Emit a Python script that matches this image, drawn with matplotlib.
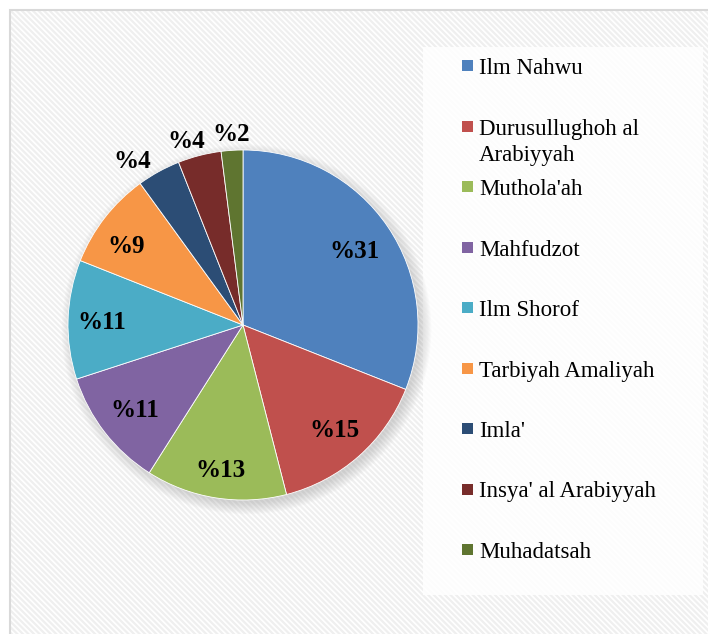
import numpy as np
import matplotlib
matplotlib.use('Agg')
from matplotlib import pyplot as plt
from matplotlib.patches import Rectangle, Circle

# Data
subjects = ['Ilm Nahwu', 'Durusullughoh al\nArabiyyah', "Muthola'ah", 'Mahfudzot',
            'Ilm Shorof', 'Tarbiyah Amaliyah', "Imla'", "Insya' al Arabiyyah", 'Muhadatsah']
shares = [31, 15, 13, 11, 11, 9, 4, 4, 2]
colors = ['#4F81BD', '#C0504D', '#9BBB59', '#8064A2', '#4BACC6',
          '#F79646', '#2C4D75', '#772C2A', '#5F7530']
# data label placement: radius (fraction of pie radius) and angle nudge (deg)
label_r = [0.77, 0.79, 0.83, 0.78, 0.81, 0.81, 1.14, 1.11, 1.10]
label_nudge = [0, 0, 0, 0, 0, 3, 5, 2.5, 0]

plt.rcParams['font.family'] = ['Liberation Serif', 'DejaVu Serif']
plt.rcParams['hatch.color'] = '#efefef'
plt.rcParams['hatch.linewidth'] = 1.6

W, H = 708, 634
fig = plt.figure(figsize=(W / 100, H / 100), dpi=100)
fig.patch.set_facecolor('white')

# striped chart area and border
bg = Rectangle((10 / W, -0.05), 1.0, 1 - 10 / H + 0.05, transform=fig.transFigure,
               facecolor='white', edgecolor='#efefef', hatch='\\\\\\\\\\\\', lw=0, zorder=-3)
fig.patches.append(bg)
border = Rectangle((10 / W, -0.05), 1.0, 1 - 10 / H + 0.05, transform=fig.transFigure,
                   facecolor='none', edgecolor='#d9d9d9', lw=1.5, zorder=-2)
fig.patches.append(border)

# legend box
lbox = Rectangle((423 / W, 1 - 595 / H), 280 / W, 548 / H, transform=fig.transFigure,
                 facecolor='white', alpha=0.85, edgecolor='none', zorder=-1)
fig.patches.append(lbox)

cx, cy, r = 243, 325, 175
ax = fig.add_axes([(cx - r) / W, 1 - (cy + r) / H, 2 * r / W, 2 * r / H])
ax.axis('off')

# soft shadow, mostly to the lower right
for i in range(12):
    ax.add_patch(Circle((0.02, -0.025), 0.99 + 0.006 * i, color='#9a9a9a',
                        alpha=0.035, lw=0, zorder=0, clip_on=False))

wedges, _ = ax.pie(shares, colors=colors, startangle=90, counterclock=False,
                   radius=1, wedgeprops=dict(lw=0.6, edgecolor='white'))
for w in wedges:
    w.set_zorder(2)
ax.set_xlim(-1, 1)
ax.set_ylim(-1, 1)
ax.set_aspect('equal')

total = sum(shares)
cum = 0
for val, lr, nd in zip(shares, label_r, label_nudge):
    mid = 90 - 360 * (cum + val / 2) / total + nd
    cum += val
    a = np.deg2rad(mid)
    ax.annotate('%' + str(val), (lr * np.cos(a), lr * np.sin(a)), xytext=(0, -1.5),
                textcoords='offset points', ha='center', va='center',
                fontsize=18, fontweight='bold', color='black', zorder=5,
                annotation_clip=False)

# legend
y0, step = 66, 60.5
for i, (name, c) in enumerate(zip(subjects, colors)):
    y = y0 + i * step
    fig.patches.append(Rectangle((462 / W, 1 - (y + 5) / H), 11 / W, 11 / H,
                                 transform=fig.transFigure, facecolor=c,
                                 edgecolor='none', zorder=3))
    fig.text(479 / W, 1 - (y - 8) / H, name, ha='left', va='top', fontsize=16.5,
             linespacing=1.35, color='black', zorder=4)

fig.savefig('out.png', dpi=100)
